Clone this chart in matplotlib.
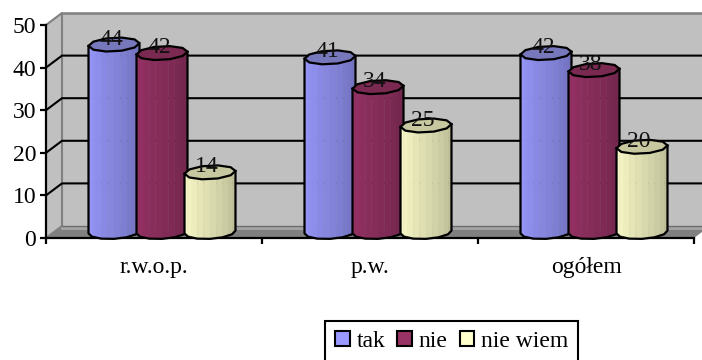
import numpy as np
import matplotlib
matplotlib.use('Agg')
import matplotlib.pyplot as plt
from matplotlib.patches import Patch

plt.rcParams['font.family'] = ['Liberation Serif', 'DejaVu Serif']

categories = ['r.w.o.p.', 'p.w.', 'ogółem']
series_names = ['tak', 'nie', 'nie wiem']
tak = [44, 41, 42]
nie = [42, 34, 38]
nie_wiem = [14, 25, 20]
y_ticks = [0, 10, 20, 30, 40, 50]

colors = ['#9999ff', '#993366', '#ffffcc']
top_colors = ['#7777bb', '#7a2950', '#c8c8a0']

W, H = 702, 360
# front plane of the chart, in pixels
left, right, top, bottom = 46, 694, 25, 238
px_x = (right - left) / 3.0   # pixels per category
px_y = (bottom - top) / 50.0  # pixels per unit

depth_x = 16 / px_x
depth_y = 12 / px_y

fig = plt.figure(figsize=(W / 100, H / 100), dpi=100, facecolor='white')
ax = fig.add_axes([left / W, 1 - bottom / H, (right - left) / W, (bottom - top) / H])
ax.set_xlim(-0.5, 2.5)
ax.set_ylim(0, 50)
ax.patch.set_visible(False)

# walls and floor
x0, x1 = -0.5, 2.5
wall = '#c0c0c0'
edge = '#808080'
ax.fill([x0 + depth_x, x1 + depth_x, x1 + depth_x, x0 + depth_x],
        [depth_y, depth_y, 50 + depth_y, 50 + depth_y], color=wall, clip_on=False, lw=0, zorder=1)
ax.fill([x0, x0 + depth_x, x0 + depth_x, x0], [0, depth_y, 50 + depth_y, 50],
        color=wall, clip_on=False, lw=0, zorder=1)
ax.fill([x0, x1, x1 + depth_x, x0 + depth_x], [0, 0, depth_y, depth_y],
        color=edge, clip_on=False, lw=0, zorder=1)
ax.plot([x0, x0 + depth_x, x0 + depth_x], [50, 50 + depth_y, depth_y],
        color=edge, lw=1.5, clip_on=False, zorder=2)
ax.plot([x0 + depth_x, x1 + depth_x], [50 + depth_y, 50 + depth_y], color=edge, lw=1.8,
        clip_on=False, zorder=2)
ax.plot([x0, x0 + depth_x], [0, depth_y], color=edge, lw=1.5, clip_on=False, zorder=2)
# light strip along the back of the floor
ax.plot([x0 + depth_x, x1 + depth_x], [depth_y - 1.5 / px_y, depth_y - 1.5 / px_y],
        color='#a6a6a6', lw=2, clip_on=False, zorder=2)
ax.plot([x0 + depth_x, x1 + depth_x], [depth_y, depth_y], color='#6e6e6e', lw=1,
        clip_on=False, zorder=2)

# gridlines on side wall and back wall
for v in y_ticks[1:-1]:
    ax.plot([x0, x0 + depth_x, x1 + depth_x], [v, v + depth_y, v + depth_y],
            color='black', lw=1.5, clip_on=False, zorder=3)


def shade(color, f):
    rgb = np.array(matplotlib.colors.to_rgb(color))
    return tuple(rgb * f)


def cylinder(center, value, col, top_col, z):
    # faceted cylinder, sitting half way into the depth of the floor
    a, b, h = 25 / px_x, 5 / px_x, 7 / px_y
    cx = center + depth_x / 2
    cy0 = depth_y / 2
    phi = np.arctan2(b, a)
    t = np.linspace(np.pi + phi, 2 * np.pi + phi, 7)
    ex = a * np.cos(t) + b * np.sin(t)
    ey = h * np.sin(t)

    # colour bands across the front
    s = np.linspace(np.pi + phi, 2 * np.pi + phi, 13)
    sx = a * np.cos(s) + b * np.sin(s)
    sy = np.interp(sx, ex, ey)
    fs = np.linspace(1.0, 0.72, len(s) - 1)
    for i in range(len(s) - 1):
        ax.fill([cx + sx[i], cx + sx[i + 1], cx + sx[i + 1], cx + sx[i]],
                [cy0 + sy[i], cy0 + sy[i + 1], cy0 + value + sy[i + 1], cy0 + value + sy[i]],
                color=shade(col, fs[i]), lw=0.3, clip_on=False, zorder=z)

    # outline of the sides and bottom
    ox = np.concatenate([[cx + ex[0]], cx + ex, [cx + ex[-1]]])
    oy = np.concatenate([[cy0 + value + ey[0]], cy0 + ey, [cy0 + value + ey[-1]]])
    ax.plot(ox, oy, color='black', lw=1.6, clip_on=False, zorder=z + 0.1)

    # top cap
    tt = np.linspace(phi, 2 * np.pi + phi, 11)
    ax.fill(cx + a * np.cos(tt) + b * np.sin(tt), cy0 + value + h * np.sin(tt),
            facecolor=top_col, edgecolor='black', lw=1.6, clip_on=False, zorder=z + 0.2)


offsets = [-48 / px_x, 0, 48 / px_x]
z = 5
for k, values in enumerate([tak, nie, nie_wiem]):
    for c in range(len(categories)):
        cylinder(c + offsets[k], values[c], colors[k], top_colors[k], z + k)
        ax.text(c + offsets[k] + 5 / px_x, values[c] + depth_y / 2, str(values[c]),
                ha='center', va='baseline', fontsize=17, color='#111111', zorder=20)

ax.spines['top'].set_visible(False)
ax.spines['right'].set_visible(False)
for s in ['left', 'bottom']:
    ax.spines[s].set_linewidth(1.6)
    ax.spines[s].set_zorder(4)
ax.set_yticks(y_ticks)
ax.tick_params(axis='y', labelsize=17, length=4, width=1.6, pad=3)
ax.set_xticks([-0.5, 0.5, 1.5, 2.5])
ax.set_xticklabels([])
ax.set_xticks([0, 1, 2], minor=True)
ax.set_xticklabels(categories, minor=True, fontsize=17)
ax.tick_params(axis='x', which='major', length=4, width=1.6)
ax.tick_params(axis='x', which='minor', length=0, pad=14)

handles = [Patch(facecolor=colors[i], edgecolor='black', lw=1.5) for i in range(3)]
leg = ax.legend(handles, series_names, ncol=3, loc='upper left',
                bbox_to_anchor=((325 - left) / (right - left), -(321 - bottom) / (bottom - top)),
                fontsize=17, frameon=True, fancybox=False, edgecolor='black', framealpha=1,
                borderaxespad=0, handlelength=0.62, handleheight=0.62, handletextpad=0.3,
                columnspacing=0.5, borderpad=0.42)
leg.get_frame().set_linewidth(1.5)

fig.savefig('out.png', dpi=100)
